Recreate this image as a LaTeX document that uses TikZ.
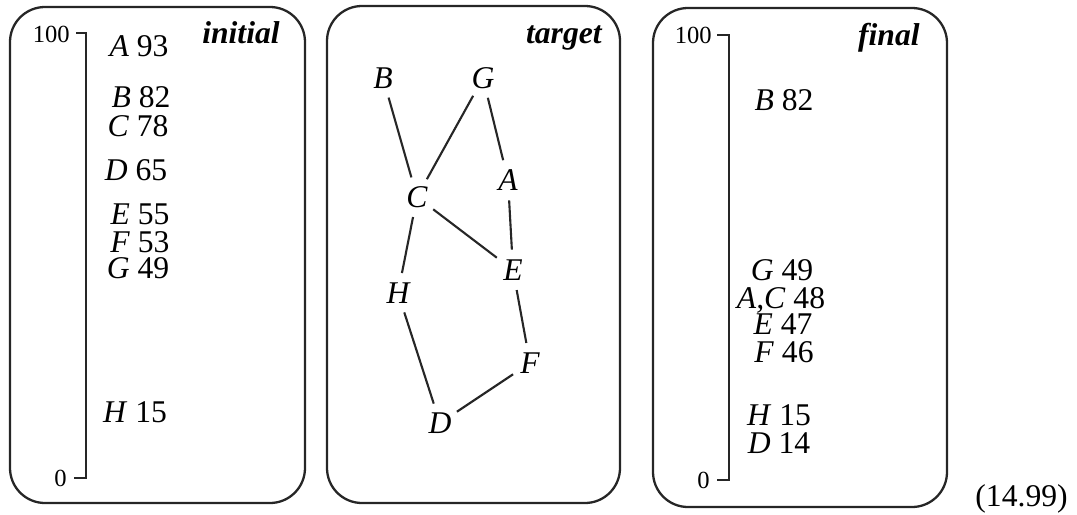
\documentclass[tikz,border=0pt]{standalone}
\usepackage{fontspec}
\setmainfont{Liberation Serif}
\usetikzlibrary{positioning}

\begin{document}
\begin{tikzpicture}[
    x=0.02cm,
    y=-0.02cm,
    font=\fontsize{18}{21}\selectfont,
    panel/.style={
        draw=black!85,
        line width=1.3pt,
        rounded corners=0.7cm
    },
    title/.style={
        font=\fontsize{18}{21}\selectfont\bfseries\itshape,
        anchor=base east,
        inner sep=0pt
    },
    entry/.style={
        anchor=base,
        inner sep=0pt
    },
    scalenum/.style={
        font=\fontsize{14}{17}\selectfont,
        anchor=base east,
        inner sep=0pt
    },
    scaleline/.style={
        line width=1.3pt,
        draw=black!85
    },
    vertex/.style={
        circle,
        inner sep=0pt,
        minimum size=0.8cm,
        font=\fontsize{18}{21}\selectfont\itshape
    },
    edge/.style={
        line width=1.2pt,
        draw=black!85
    }
]
\useasboundingbox (0,0) rectangle (1077,514);

% =========================================================
% Panels
% =========================================================
\draw[panel] (10,7) rectangle (305,503);
\draw[panel] (327,6) rectangle (620,503);
\draw[panel] (653,8) rectangle (947,507);

\node[title] (initial) at (280,43) {initial};
\node[title] (target) at (602,43) {target};
\node[title] (final) at (920,45) {final};

% =========================================================
% Left: initial scale
% =========================================================
\coordinate (itopL) at (76,33);
\coordinate (itop) at (86,33);
\coordinate (ibot) at (86,478);
\coordinate (ibotL) at (74,478);
\draw[scaleline] (itopL) -- (itop) -- (ibot) -- (ibotL);
\node[scalenum] (imax) at (70,42) {100};
\node[scalenum] (imin) at (67,486) {0};

\node[entry] (iA) at (139,56) {\textit{A} 93};
\node[entry] (iB) at (141,107) {\textit{B} 82};
\node[entry] (iC) at (138,136) {\textit{C} 78};
\node[entry] (iD) at (136,180) {\textit{D} 65};
\node[entry] (iE) at (140,224) {\textit{E} 55};
\node[entry] (iF) at (140,252) {\textit{F} 53};
\node[entry] (iG) at (138,278) {\textit{G} 49};
\node[entry] (iH) at (135,422) {\textit{H} 15};

% =========================================================
% Middle: target graph
% =========================================================
\node[vertex] (B) at (383,78) {B};
\node[vertex] (G) at (483,78) {G};
\node[vertex] (C) at (417,197) {C};
\node[vertex] (A) at (508,180) {A};
\node[vertex] (E) at (513,270) {E};
\node[vertex] (H) at (398,293) {H};
\node[vertex] (F) at (530,363) {F};
\node[vertex] (D) at (440,423) {D};

\draw[edge] (B) -- (C);
\draw[edge] (G) -- (C);
\draw[edge] (G) -- (A);
\draw[edge] (A) -- (E);
\draw[edge] (C) -- (E);
\draw[edge] (C) -- (H);
\draw[edge] (H) -- (D);
\draw[edge] (E) -- (F);
\draw[edge] (F) -- (D);

% =========================================================
% Right: final scale
% =========================================================
\coordinate (ftopL) at (717,35);
\coordinate (ftop) at (729,35);
\coordinate (fbot) at (729,480);
\coordinate (fbotL) at (717,480);
\draw[scaleline] (ftopL) -- (ftop) -- (fbot) -- (fbotL);
\node[scalenum] (fmax) at (712,43) {100};
\node[scalenum] (fmin) at (710,488) {0};

\node[entry] (fB) at (784,110) {\textit{B} 82};
\node[entry] (fG) at (782,280) {\textit{G} 49};
\node[entry] (fAC) at (781,308) {\textit{A,C} 48};
\node[entry] (fE) at (783,334) {\textit{E} 47};
\node[entry] (fF) at (784,362) {\textit{F} 46};
\node[entry] (fH) at (779,425) {\textit{H} 15};
\node[entry] (fD) at (779,453) {\textit{D} 14};

\node[anchor=base east, inner sep=0pt] (eqno) at (1068,506) {(14.99)};

\end{tikzpicture}
\end{document}
